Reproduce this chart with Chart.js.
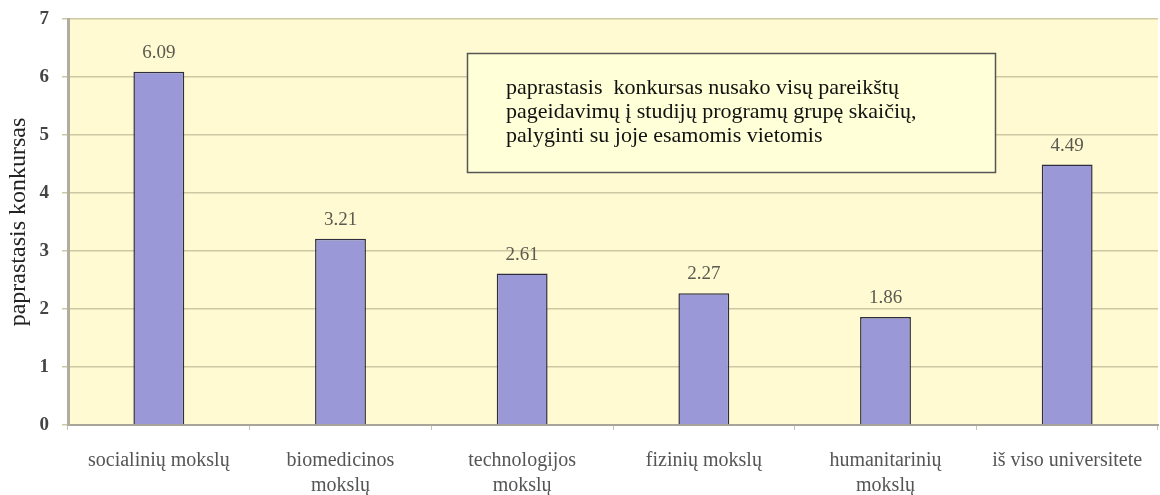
<!DOCTYPE html>
<html>
<head>
<meta charset="utf-8">
<script src="https://cdn.jsdelivr.net/npm/chart.js@4/dist/chart.umd.min.js"></script>
<style>
  html, body { margin: 0; padding: 0; background: #fff; }
  #wrap { width: 1160px; height: 495px; position: relative; }
</style>
</head>
<body>
<div id="wrap"><canvas id="chart"></canvas></div>
<script>
const categories = [
  'socialinių mokslų',
  ['biomedicinos', 'mokslų'],
  ['technologijos', 'mokslų'],
  'fizinių mokslų',
  ['humanitarinių', 'mokslų'],
  'iš viso universitete',
];
const values = [6.09, 3.21, 2.61, 2.27, 1.86, 4.49];
const yTicks = [0, 1, 2, 3, 4, 5, 6, 7];
const yTitle = 'paprastasis konkursas';
const noteLines = [
  'paprastasis  konkursas nusako visų pareikštų',
  'pageidavimų į studijų programų grupę skaičių,',
  'palyginti su joje esamomis vietomis',
];

const serif = '"Liberation Serif", "DejaVu Serif", serif';

// pale yellow plot background
const plotBg = {
  id: 'plotBg',
  beforeDraw(chart) {
    const { ctx, chartArea: a } = chart;
    ctx.save();
    ctx.fillStyle = '#fffad2';
    ctx.fillRect(a.left, a.top, a.right - a.left, a.bottom - a.top);
    ctx.restore();
  },
};

// numbers above bars
const valueLabels = {
  id: 'valueLabels',
  afterDatasetsDraw(chart) {
    const { ctx } = chart;
    const meta = chart.getDatasetMeta(0);
    ctx.save();
    ctx.font = '19px ' + serif;
    ctx.fillStyle = '#5a5a50';
    ctx.textAlign = 'center';
    ctx.textBaseline = 'alphabetic';
    meta.data.forEach((bar, i) => {
      ctx.fillText(values[i].toFixed(2), bar.x, bar.y - 14);
    });
    ctx.restore();
  },
};

// explanatory note box
const noteBox = {
  id: 'noteBox',
  afterDraw(chart) {
    const { ctx } = chart;
    ctx.save();
    ctx.fillStyle = '#ffffd8';
    ctx.fillRect(467, 53, 528, 119);
    ctx.strokeStyle = '#555';
    ctx.lineWidth = 1.5;
    ctx.strokeRect(467.5, 53.5, 528, 119);
    ctx.fillStyle = '#111';
    ctx.font = '22px ' + serif;
    ctx.textBaseline = 'alphabetic';
    noteLines.forEach((line, i) => {
      ctx.fillText(line, 506, 94 + i * 24);
    });
    ctx.restore();
  },
};

new Chart(document.getElementById('chart'), {
  type: 'bar',
  data: {
    labels: categories,
    datasets: [{
      data: values,
      backgroundColor: '#9a98d6',
      borderColor: '#2e2e3e',
      borderWidth: 1.5,
      categoryPercentage: 1,
      barPercentage: 0.28,
    }],
  },
  options: {
    responsive: true,
    maintainAspectRatio: false,
    animation: false,
    layout: { padding: { top: 19, right: 2, left: 0, bottom: 0 } },
    plugins: { legend: { display: false }, tooltip: { enabled: false } },
    scales: {
      x: {
        offset: true,
        grid: { display: true, drawOnChartArea: false, tickLength: 5, color: '#c8c4b0', offset: true },
        border: { color: '#a8a49a', width: 2 },
        ticks: { color: '#555', font: { family: serif, size: 20, lineHeight: 1.25 }, padding: 18, maxRotation: 0, autoSkip: false },
        afterFit(s) {
          s.height = 70;
          s.paddingLeft = 0;
          s.paddingRight = 0;
        },
      },
      y: {
        min: 0,
        max: 7,
        afterBuildTicks(s) { s.ticks = yTicks.map((v) => ({ value: v })); },
        grid: { color: '#cdc7a4', lineWidth: 1.5, tickLength: 6 },
        border: { color: '#b0aca0', width: 3 },
        ticks: { color: '#444', font: { family: serif, size: 19, weight: 'bold' }, padding: 13 },
        title: { display: true, text: yTitle, color: '#222', font: { family: serif, size: 24 }, padding: 4 },
        afterFit(s) {
          s.width = 68;
          s.paddingTop = 0;
          s.paddingBottom = 0;
        },
      },
    },
  },
  plugins: [plotBg, valueLabels, noteBox],
});
</script>
</body>
</html>
